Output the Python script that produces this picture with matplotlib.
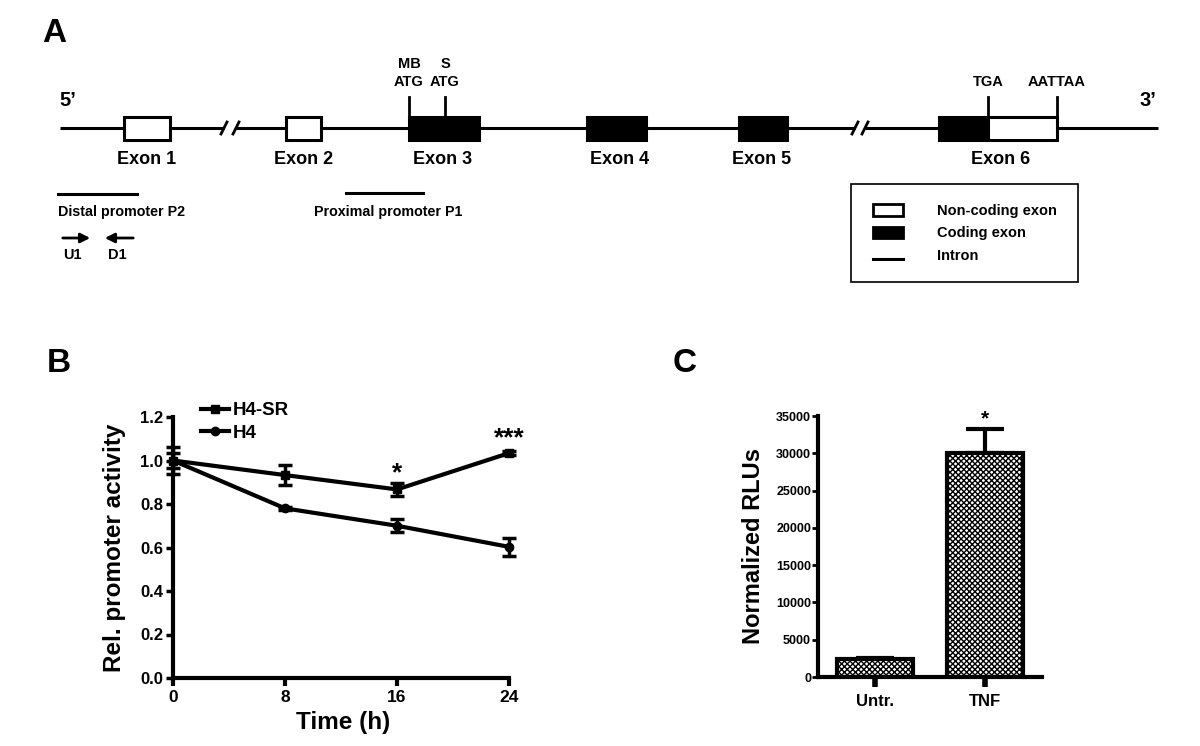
import numpy as np
import matplotlib
matplotlib.use("Agg")
import matplotlib.pyplot as plt
from matplotlib.patches import Rectangle

plt.rcParams.update({
    "font.family": ["Liberation Sans", "DejaVu Sans"], "font.weight": "bold",
    "axes.labelweight": "bold", "hatch.linewidth": 1.0, "hatch.color": "black",
})
W, H = 1200, 746

# ---------- panel A: gene map (schematic units = figure pixels) ----------
exon_labels = ["Exon 1", "Exon 2", "Exon 3", "Exon 4", "Exon 5", "Exon 6"]
exon_left = [124, 286, 409, 587, 739, 939]
exon_right = [170, 321, 479, 646, 787, 1057]
coding_right = [None, None, 479, 646, 787, 988]   # None = non-coding exon
exon_label_x = [147, 304, 443, 620, 762, 1001]
site_x = [409, 445, 988, 1057]
site_labels = ["MB\nATG", "S\nATG", "TGA", "AATTAA"]
gene_span = (60, 1158)
breaks = [(224, 236), (855, 865)]
promoters = [("Distal promoter P2", 58, 137, 194), ("Proximal promoter P1", 346, 423, 193)]

# ---------- panel B: promoter activity time course ----------
time_h = [0, 8, 16, 24]
h4sr_mean = [1.0, 0.933, 0.867, 1.034]
h4sr_err = [0.06, 0.045, 0.03, 0.008]
h4_mean = [1.0, 0.78, 0.70, 0.603]
h4_err = [0.035, 0.008, 0.03, 0.04]

# ---------- panel C: luciferase ----------
conditions = ["Untr.", "TNF"]
rlu_mean = [2400, 30000]
rlu_err = [100, 3300]

fig = plt.figure(figsize=(12, 7.46), dpi=100)

# ===== A =====
ax0 = fig.add_axes([0, 0, 1, 1])
ax0.set_xlim(0, W); ax0.set_ylim(H, 0); ax0.axis("off")
LY, BT, BB = 128, 117, 140
pts = [gene_span[0]] + [p for b in breaks for p in b] + [gene_span[1]]
for a, b in zip(pts[::2], pts[1::2]):
    ax0.plot([a, b], [LY, LY], color="black", lw=2.2, solid_capstyle="butt")
for b in breaks:
    for x in b:
        ax0.plot([x - 3, x + 3], [LY + 6, LY - 6], color="black", lw=2)
for l, r, c in zip(exon_left, exon_right, coding_right):
    if c is None:
        ax0.add_patch(Rectangle((l, BT), r - l, BB - BT, fc="white", ec="black", lw=2.2, zorder=3))
    else:
        ax0.add_patch(Rectangle((l, BT), c - l, BB - BT, fc="black", ec="black", lw=2.2, zorder=3))
        if r > c:
            ax0.add_patch(Rectangle((c, BT), r - c, BB - BT, fc="white", ec="black", lw=2.2, zorder=3))
for lab, x in zip(exon_labels, exon_label_x):
    ax0.text(x, 159, lab, ha="center", va="center", fontsize=13)
for x, lab in zip(site_x, site_labels):
    ax0.plot([x, x], [97, BT], color="black", lw=2)
    ax0.text(x, 89, lab, ha="center", va="bottom", fontsize=10.5, linespacing=1.35)
ax0.text(68, 101, "5\u2019", ha="center", va="center", fontsize=14.5)
ax0.text(1148, 101, "3\u2019", ha="center", va="center", fontsize=14.5)
for lab, a, b, y in promoters:
    ax0.plot([a, b], [y, y], color="black", lw=2.2)
ax0.text(promoters[0][1], 212, promoters[0][0], ha="left", va="center", fontsize=10.3)
ax0.text(388, 212, promoters[1][0], ha="center", va="center", fontsize=10.3)
ax0.annotate("", xy=(93, 238), xytext=(60, 238),
             arrowprops=dict(arrowstyle="-|>", color="black", lw=2, mutation_scale=14))
ax0.annotate("", xy=(102, 238), xytext=(136, 238),
             arrowprops=dict(arrowstyle="-|>", color="black", lw=2, mutation_scale=14))
ax0.text(72, 255, "U1", ha="center", va="center", fontsize=10.5)
ax0.text(117, 255, "D1", ha="center", va="center", fontsize=10.5)
# key
ax0.add_patch(Rectangle((851, 184), 227, 98, fc="white", ec="black", lw=1.2))
ax0.add_patch(Rectangle((873, 204), 30, 12, fc="white", ec="black", lw=2))
ax0.add_patch(Rectangle((873, 227), 30, 11, fc="black", ec="black", lw=2))
ax0.plot([873, 903], [259, 259], color="black", lw=2.2)
for y, lab in zip([211, 233, 256], ["Non-coding exon", "Coding exon", "Intron"]):
    ax0.text(937, y, lab, ha="left", va="center", fontsize=10.5)

for lab, x, y in [("A", 42, 42), ("B", 47, 372), ("C", 673, 372)]:
    fig.text(x / W, 1 - y / H, lab, fontsize=24, ha="left", va="baseline")

# ===== B =====
axB = fig.add_axes([173 / W, 1 - 678 / H, (509 - 173) / W, (678 - 417) / H])
axB.errorbar(time_h, h4sr_mean, yerr=h4sr_err, fmt="none", ecolor="black",
             elinewidth=2.5, capsize=5, capthick=2.5, clip_on=False, zorder=3)
axB.errorbar(time_h, h4_mean, yerr=h4_err, fmt="none", ecolor="black",
             elinewidth=2.5, capsize=5, capthick=2.5, clip_on=False, zorder=3)
axB.plot(time_h, h4sr_mean, "s-", color="black", lw=3, ms=6, label="H4-SR", clip_on=False, zorder=4)
axB.plot(time_h, h4_mean, "o-", color="black", lw=3, ms=6, label="H4", clip_on=False, zorder=4)
axB.set_xlim(0, 24); axB.set_ylim(0, 1.2)
axB.set_xticks(time_h); axB.set_yticks(np.arange(0, 1.21, 0.2))
axB.set_yticklabels([f"{v:.1f}" for v in np.arange(0, 1.21, 0.2)])
for s in ["top", "right"]:
    axB.spines[s].set_visible(False)
for s in ["left", "bottom"]:
    axB.spines[s].set_linewidth(3); axB.spines[s].set_capstyle("projecting")
axB.tick_params(axis="x", direction="out", width=3, length=6, labelsize=12.5, pad=3)
axB.tick_params(axis="y", direction="out", width=2.5, length=5, labelsize=12, pad=2)
axB.set_ylabel("Rel. promoter activity", fontsize=17.5)
axB.yaxis.set_label_coords(-0.14, 0.5)
axB.set_xlabel("Time (h)", fontsize=17.5)
axB.xaxis.set_label_coords(0.506, -0.125)
axB.text(16, 0.91, "*", ha="center", va="baseline", fontsize=19)
axB.text(24, 1.07, "***", ha="center", va="baseline", fontsize=19)
axB.legend(loc="center left", bbox_to_anchor=(201 / W, 1 - 422 / H), bbox_transform=fig.transFigure,
           frameon=False, fontsize=13.5, handlelength=1.5, handletextpad=0.2,
           labelspacing=0.28, borderpad=0, borderaxespad=0)

# ===== C =====
axC = fig.add_axes([818 / W, 1 - 677 / H, (1042 - 818) / W, (677 - 416) / H])
xc = np.arange(len(conditions))
axC.bar(xc, rlu_mean, width=0.69, color="white", edgecolor="black", lw=3, hatch="x" * 6, zorder=2)
axC.errorbar(xc, rlu_mean, yerr=[[0] * len(rlu_err), rlu_err], fmt="none", ecolor="black",
             elinewidth=3, capsize=14, capthick=3, zorder=1)
axC.set_xlim(-0.52, 1.52); axC.set_ylim(0, 35000)
axC.set_xticks(xc); axC.set_xticklabels(conditions)
axC.set_yticks(np.arange(0, 35001, 5000))
for s in ["top", "right"]:
    axC.spines[s].set_visible(False)
for s in ["left", "bottom"]:
    axC.spines[s].set_linewidth(3); axC.spines[s].set_capstyle("projecting")
axC.tick_params(axis="x", direction="out", width=4, length=7, labelsize=12, pad=5)
axC.tick_params(axis="y", direction="out", width=2, length=4, labelsize=9, pad=1)
axC.set_ylabel("Normalized RLUs", fontsize=17)
axC.yaxis.set_label_coords(-0.235, 0.5)
axC.text(1, 33900, "*", ha="center", va="baseline", fontsize=15)

fig.savefig("out.png", dpi=100)
